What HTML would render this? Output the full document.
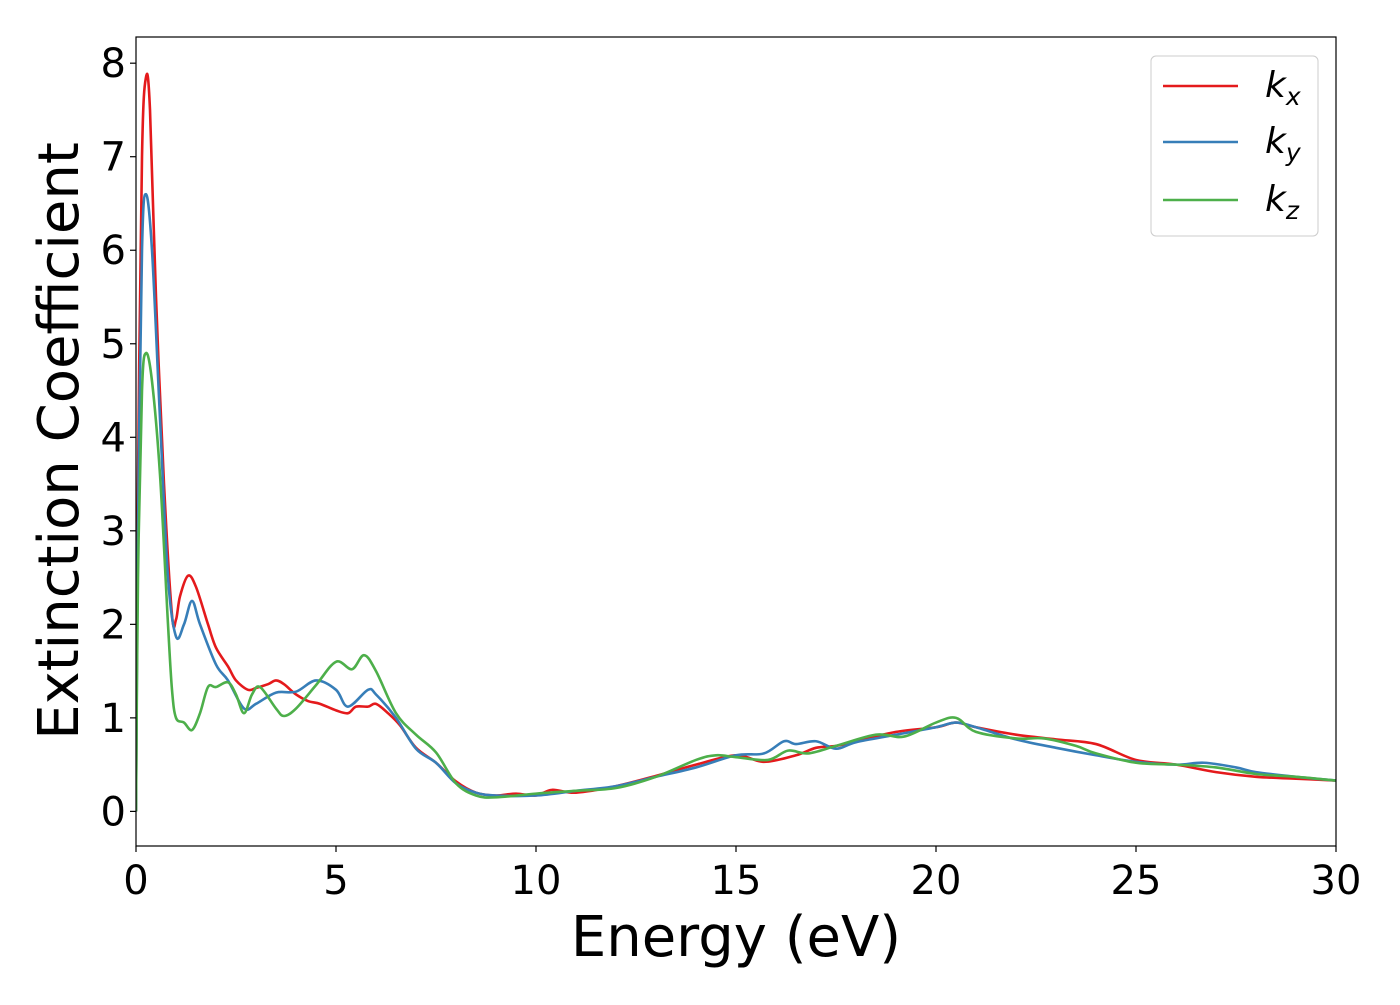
<!DOCTYPE html>
<html><head><meta charset="utf-8"><style>
body{margin:0;background:#fff;}
svg text{font-family:"DejaVu Sans","Liberation Sans",sans-serif;fill:#000;}
</style></head><body>
<svg id="chart" width="1400" height="1000" xmlns="http://www.w3.org/2000/svg">
<g id="plot"></g>
</svg>
<script>
const kxE=[0,0.05,0.15,0.25,0.35,0.5,0.7,0.9,1.0,1.1,1.3,1.5,1.8,2.0,2.3,2.5,2.8,3.0,3.3,3.5,3.7,4.0,4.3,4.6,5.0,5.3,5.5,5.8,6.0,6.3,6.6,7.0,7.5,8,8.5,9,9.5,10,10.4,11,12,13,14,15,15.7,16.5,17,17.5,18,19,20,20.5,21,22,23,24,25,26,27,28,29,30];
const kxV=[0,3.5,7,7.85,7.5,5.5,3.5,2.1,2.05,2.3,2.52,2.4,2.0,1.75,1.55,1.4,1.3,1.32,1.36,1.4,1.36,1.25,1.18,1.15,1.08,1.05,1.12,1.12,1.15,1.05,0.92,0.68,0.52,0.32,0.2,0.17,0.19,0.17,0.23,0.2,0.27,0.38,0.5,0.6,0.53,0.6,0.68,0.7,0.75,0.85,0.9,0.95,0.9,0.82,0.77,0.72,0.55,0.5,0.42,0.37,0.35,0.33];
const kyE=[0,0.05,0.15,0.25,0.4,0.6,0.8,1.0,1.2,1.4,1.6,2.0,2.3,2.7,3.0,3.5,4.0,4.5,5.0,5.3,5.8,6.0,6.5,7,7.5,8,8.5,9,10,11,12,13,14,15,15.7,16.2,16.5,17,17.5,18,19,20,20.5,21,22,23,24,25,26,26.7,27.5,28,29,30];
const kyV=[0,3,6,6.6,6.0,4.2,2.5,1.87,2.0,2.25,2.0,1.57,1.4,1.1,1.15,1.27,1.28,1.4,1.3,1.12,1.3,1.25,1.0,0.67,0.52,0.3,0.2,0.17,0.17,0.22,0.27,0.37,0.47,0.6,0.62,0.75,0.72,0.75,0.67,0.74,0.82,0.9,0.95,0.9,0.77,0.68,0.6,0.53,0.5,0.52,0.47,0.42,0.37,0.33];
const kzE=[0,0.05,0.15,0.25,0.4,0.6,0.8,0.9,1.0,1.2,1.4,1.6,1.8,2.0,2.3,2.5,2.7,2.9,3.1,3.5,3.7,4.0,4.5,5.0,5.4,5.7,6.0,6.5,7.0,7.5,8,8.5,9,10,11,12,13,14,14.5,15,15.8,16.3,16.8,17.5,18.5,19.2,20,20.5,21,22,22.7,23.5,24,25,26,27,28,29,30];
const kzV=[0,2.5,4.5,4.9,4.6,3.6,2.0,1.3,1.0,0.95,0.87,1.05,1.33,1.33,1.38,1.25,1.05,1.25,1.33,1.1,1.02,1.1,1.35,1.6,1.52,1.67,1.5,1.05,0.82,0.63,0.3,0.17,0.15,0.19,0.22,0.25,0.37,0.55,0.6,0.58,0.55,0.65,0.62,0.7,0.82,0.8,0.95,1.0,0.85,0.78,0.78,0.7,0.62,0.52,0.5,0.47,0.4,0.37,0.33];
const xTicks=[0,5,10,15,20,25,30];
const yTicks=[0,1,2,3,4,5,6,7,8];

const L=136,R=1336,T=37,B=846,xMin=0,xMax=30,yMin=-0.37,yMax=8.28;
const X=v=>L+(v-xMin)/(xMax-xMin)*(R-L);
const Y=v=>B-(v-yMin)/(yMax-yMin)*(B-T);
const NS="http://www.w3.org/2000/svg";
const g=document.getElementById('plot');
function mk(t,a,p){const e=document.createElementNS(NS,t);for(const k in a)e.setAttribute(k,a[k]);(p||g).appendChild(e);return e;}
function pathFor(E,V){
  const P=E.map((e,i)=>[X(e),Y(V[i])]);
  let d='M'+P[0][0]+','+P[0][1];
  for(let i=0;i<P.length-1;i++){
    const p0=P[Math.max(0,i-1)],p1=P[i],p2=P[i+1],p3=P[Math.min(P.length-1,i+2)];
    const c1=[p1[0]+(p2[0]-p0[0])/6,p1[1]+(p2[1]-p0[1])/6];
    const c2=[p2[0]-(p3[0]-p1[0])/6,p2[1]-(p3[1]-p1[1])/6];
    d+=' C'+c1+' '+c2+' '+p2;
  }
  return d;
}
const defs=mk('defs',{});
const cp=mk('clipPath',{id:'clip'},defs);mk('rect',{x:L,y:T,width:R-L,height:B-T},cp);
const series=[[kxE,kxV,'#e41a1c','kx-line'],[kyE,kyV,'#377eb8','ky-line'],[kzE,kzV,'#4daf4a','kz-line']];
series.forEach(s=>{
  const p=mk('path',{d:pathFor(s[0],s[1]),fill:'none',stroke:s[2],'stroke-width':2.6,'clip-path':'url(#clip)'});
  
  
});
const fr=mk('rect',{x:L,y:T,width:R-L,height:B-T,fill:'none',stroke:'#000','stroke-width':1.2});


xTicks.forEach(v=>{
  mk('line',{x1:X(v),x2:X(v),y1:B,y2:B+6,stroke:'#000','stroke-width':1.2});
  const t=mk('text',{x:X(v),y:B+48,'font-size':40,'text-anchor':'middle'});t.textContent=v;
  
  
});
yTicks.forEach(v=>{
  mk('line',{x1:L-6,x2:L,y1:Y(v),y2:Y(v),stroke:'#000','stroke-width':1.2});
  const t=mk('text',{x:L-10,y:Y(v)+14,'font-size':40,'text-anchor':'end'});t.textContent=v;
  
  
});
const xt=mk('text',{x:(L+R)/2,y:956,'font-size':56,'text-anchor':'middle'});xt.textContent='Energy (eV)';


const yt=mk('text',{x:0,y:0,'font-size':56,'text-anchor':'middle',transform:'translate(78,441) rotate(-90)'});yt.textContent='Extinction Coefficient';


const lg=mk('g',{});


mk('rect',{x:1151,y:56,width:167,height:180,rx:5,fill:'#fff','fill-opacity':0.8,stroke:'#ccc','stroke-width':1},lg);
const subs=['x','y','z'];const ly=[86,142,200];
series.forEach((s,i)=>{
  mk('line',{x1:1163,x2:1238,y1:ly[i],y2:ly[i],stroke:s[2],'stroke-width':2.6},lg);
  const t=mk('text',{x:1265,y:ly[i]+11,'font-size':36,'font-style':'italic'},lg);
  
  
  t.innerHTML='k<tspan font-size="25" dy="8">'+subs[i]+'</tspan>';
});
</script>
</body></html>
